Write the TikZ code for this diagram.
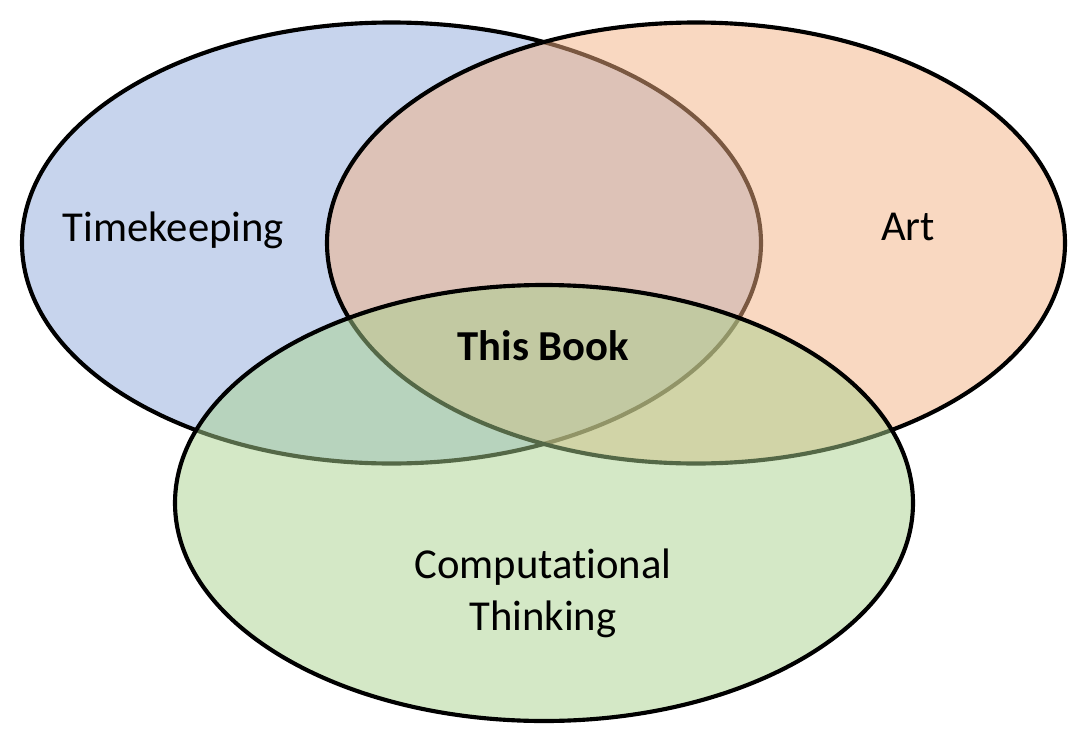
\documentclass[tikz,border=0pt]{standalone}
\usepackage{fontspec}
\setmainfont[Ligatures={NoCommon}]{Carlito}
\definecolor{cblue}{HTML}{8FAADC}
\definecolor{corange}{HTML}{F4B183}
\definecolor{cgreen}{HTML}{A9D18E}
\begin{document}
\begin{tikzpicture}[x=0.75pt,y=-0.75pt,
  venn/.style={draw=black,line width=3.1pt,fill opacity=0.5},
  lbl/.style={inner sep=0pt,anchor=base,font=\fontsize{32}{39}\selectfont,align=center}]
\useasboundingbox (0,0) rectangle (1082,732);
\path[venn,fill=cblue] (391.5,243) ellipse [x radius=369.5, y radius=220.5];
\path[venn,fill=corange] (696,243) ellipse [x radius=369, y radius=220.5];
\path[venn,fill=cgreen] (544,503) ellipse [x radius=369, y radius=218];
\node[lbl] (tk) at (173.5,241) {Timekeeping};
\node[lbl] (art) at (908,240) {Art};
\node[lbl,font=\fontsize{32}{39}\selectfont\bfseries] (book) at (543.5,360) {This Book};
\node[lbl] (ct) at (543,630) {Computational\\Thinking};
\end{tikzpicture}
\end{document}
